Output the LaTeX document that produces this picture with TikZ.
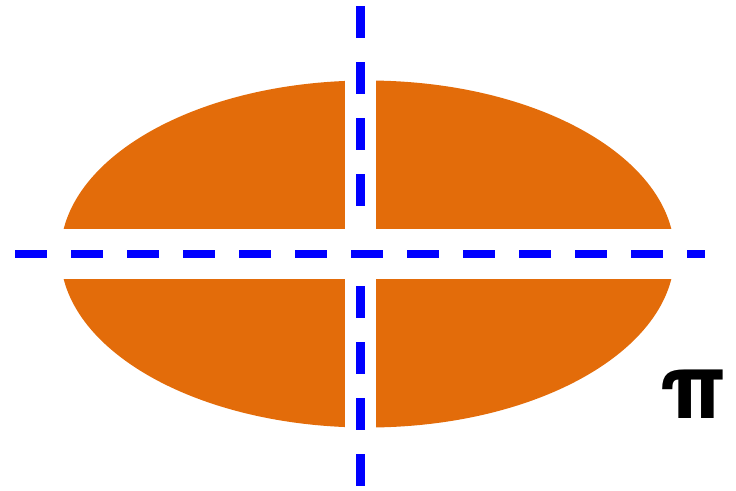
\documentclass[tikz,border=0pt]{standalone}
\usepackage{fontspec}
\newfontfamily\pifont{TeX Gyre Heros}
\definecolor{ellorange}{RGB}{227,108,10}
\begin{document}
\begin{tikzpicture}[x=1pt,y=-1pt,
  axisline/.style={draw=blue, line width=8.5pt, dash pattern=on 32pt off 24pt},
  gapband/.style={fill=white}]
\useasboundingbox (0,0) rectangle (736,490);
\fill[ellorange] (367.5,254) ellipse [x radius=307, y radius=173.5];
\fill[gapband] (345,0) rectangle (376,490);
\fill[gapband] (0,229) rectangle (736,279);
\coordinate (hl) at (15,254);
\coordinate (hr) at (705,254);
\coordinate (vt) at (360.3,6);
\coordinate (vtm) at (360.3,206);
\coordinate (vbm) at (360.3,286);
\coordinate (vb) at (360.3,486);
\draw[axisline] (hl) -- (hr);
\draw[axisline] (vt) -- (vtm);
\draw[axisline] (vbm) -- (vb);
\node[font=\pifont\bfseries\fontsize{90}{90}\selectfont, inner sep=0pt] (pi) at (692.5,394.5) {π};
\end{tikzpicture}
\end{document}
